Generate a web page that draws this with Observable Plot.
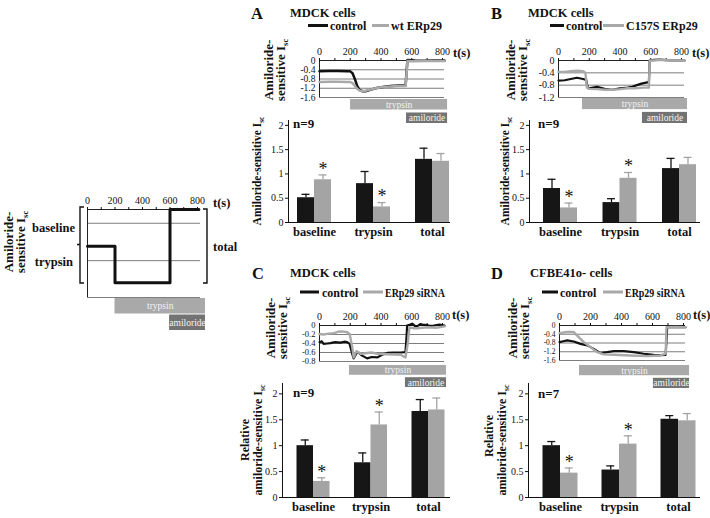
<!DOCTYPE html>
<html>
<head>
<meta charset="utf-8">
<script src="https://cdn.jsdelivr.net/npm/d3@7"></script>
<script src="https://cdn.jsdelivr.net/npm/@observablehq/plot@0.6"></script>
<style>
  html, body { margin: 0; padding: 0; background: #fff; }
  #root { position: relative; width: 710px; height: 518px; overflow: hidden; background: #fff; }
  #root > svg { position: absolute; }
</style>
</head>
<body>
<div id="root"></div>
<script>
// ================= DATA =================
const categories = ["baseline", "trypsin", "total"];
const barTicks = [0, 0.5, 1, 1.5, 2];
const timeTicks = [0, 100, 200, 300, 400, 500, 600, 700, 800];
const drugNames = ["trypsin", "amiloride"];

const panelLetters = ["A", "B", "C", "D"];
const panelTitles = ["MDCK cells", "MDCK cells", "MDCK cells", "CFBE41o- cells"];
const controlLabel = "control";
const treatmentLabels = ["wt ERp29", "C157S ERp29", "ERp29 siRNA", "ERp29 siRNA"];
const sampleSizes = ["n=9", "n=9", "n=9", "n=7"];
const significant = [true, true, false];

// Schematic (left)
const sTime = [0, 200, 200, 600, 600, 810];
const sValue = [-0.67, -0.67, -1.33, -1.33, 0, 0];
const sGrid = [-0.25, -0.93, -1.6];
const sDrugStart = [200, 597];
const sDrugEnd = [858, 858];

// Panel A traces
const aTraceTicks = [0, -0.4, -0.8, -1.2, -1.6];
const aCtrlT = [0,60,120,180,200,215,230,245,260,280,300,330,364,400,462,520,560,566,572,620,680,740,813];
const aCtrlV = [-0.46,-0.45,-0.45,-0.46,-0.47,-0.55,-0.8,-1.1,-1.27,-1.33,-1.33,-1.27,-1.2,-1.16,-1.1,-1.08,-1.08,-0.5,0.02,0,-0.01,0,0];
const aExpT = [0,60,120,180,200,215,230,245,260,280,300,330,364,400,462,520,560,566,572,620,680,740,813];
const aExpV = [-0.93,-0.92,-0.92,-0.93,-0.93,-0.98,-1.1,-1.22,-1.3,-1.32,-1.31,-1.26,-1.2,-1.16,-1.12,-1.1,-1.1,-0.6,-0.02,-0.03,-0.02,-0.02,-0.02];
const aDrugStart = [202, 566];
const aDrugEnd = [833, 833];
// Panel A bars
const aCtrl = [0.51, 0.80, 1.30];
const aCtrlErr = [0.07, 0.25, 0.23];
const aExp = [0.88, 0.32, 1.26];
const aExpErr = [0.10, 0.09, 0.16];

// Panel B traces
const bTraceTicks = [0, -0.4, -0.8, -1.2];
const bCtrlT = [0,40,80,120,160,180,190,200,250,300,350,400,450,480,510,540,570,588,593,620,660,700,760,820];
const bCtrlV = [-0.65,-0.64,-0.6,-0.56,-0.6,-0.63,-0.88,-0.9,-0.85,-0.92,-0.95,-0.9,-0.88,-0.85,-0.8,-0.75,-0.72,-0.7,0,0.02,0.03,0.01,0,0];
const bExpT = [0,40,80,120,160,175,185,200,250,300,350,400,450,500,550,588,593,620,660,700,760,820];
const bExpV = [-0.37,-0.37,-0.35,-0.33,-0.35,-0.4,-0.88,-0.92,-0.93,-0.95,-0.95,-0.93,-0.9,-0.9,-0.88,-0.88,0,0,0.02,0.01,0,0];
const bDrugStart = [156, 546];
const bDrugEnd = [839, 839];
const bCtrl = [0.70, 0.41, 1.11];
const bCtrlErr = [0.19, 0.08, 0.21];
const bExp = [0.30, 0.91, 1.19];
const bExpErr = [0.10, 0.12, 0.15];

// Panel C traces
const cTraceTicks = [0, -0.2, -0.4, -0.6, -0.8];
const cCtrlT = [0,15,27,50,71,100,136,160,180,196,213,222,245,260,277,310,340,375,408,440,480,527,559,565,570,590,603,620,635,655,670,700,720,743,780,813];
const cCtrlV = [-0.37,-0.35,-0.41,-0.4,-0.39,-0.37,-0.38,-0.36,-0.37,-0.41,-0.63,-0.73,-0.59,-0.62,-0.67,-0.73,-0.7,-0.71,-0.65,-0.61,-0.6,-0.6,-0.59,-0.3,0,0.02,0.04,-0.01,-0.02,0.03,0.02,0.01,-0.01,0,0.02,0];
const cExpT = [0,27,60,93,120,147,180,196,213,222,240,270,310,340,375,440,527,559,574,585,610,635,700,760,813];
const cExpV = [-0.19,-0.2,-0.18,-0.17,-0.14,-0.13,-0.15,-0.19,-0.48,-0.71,-0.57,-0.63,-0.61,-0.6,-0.63,-0.64,-0.65,-0.71,-0.4,-0.04,-0.06,-0.06,-0.04,-0.05,-0.02];
const cDrugStart = [195, 559];
const cDrugEnd = [826, 826];
const cCtrl = [1.00, 0.67, 1.66];
const cCtrlErr = [0.11, 0.19, 0.23];
const cExp = [0.31, 1.40, 1.69];
const cExpErr = [0.07, 0.25, 0.23];

// Panel D traces
const dTraceTicks = [0, -0.4, -0.8, -1.2, -1.6];
const dCtrlT = [0,25,50,92,135,179,221,264,308,350,414,479,543,608,650,685,695,738,780,813];
const dCtrlV = [-0.76,-0.72,-0.68,-0.73,-0.84,-0.91,-1.07,-1.26,-1.22,-1.17,-1.17,-1.22,-1.29,-1.34,-1.36,-1.34,-0.08,-0.06,-0.07,-0.08];
const dExpT = [0,50,92,114,157,200,243,286,350,458,565,652,685,690,750,813];
const dExpV = [-0.35,-0.3,-0.3,-0.46,-0.76,-0.99,-1.22,-1.32,-1.34,-1.37,-1.4,-1.37,-1.29,-0.08,-0.07,-0.08];
const dDrugStart = [129, 606];
const dDrugEnd = [839, 839];
const dCtrl = [1.00, 0.53, 1.51];
const dCtrlErr = [0.08, 0.08, 0.07];
const dExp = [0.47, 1.03, 1.48];
const dExpErr = [0.10, 0.16, 0.14];

// ================= STYLE / LAYOUT =================
const FONT = '"Liberation Serif", "Times New Roman", Times, serif';
const BLACK = "#161616";
const GRAY = "#a4a4a4";
const TRACE_GRAY = "#a9a9a9";
const GRID = "#6e6e6e";
const TRYPSIN_FILL = "#a9a9a9";
const AMILORIDE_FILL = "#737373";

const root = document.getElementById("root");
function place(svg, left, top) {
  svg.style.left = left + "px";
  svg.style.top = top + "px";
  root.appendChild(svg);
}
const baseStyle = {background: "transparent", overflow: "visible", fontFamily: FONT, fontSize: "10px", color: "#111"};
const yfmt = d => d === 0 ? "0" : d.toFixed(1);
const toRows = (T, V) => T.map((t, i) => ({t, v: V[i]}));

function traceChart(p) {
  const mL = 40, mT = 24, mR = 4, mB = 3;
  const tMax = (p.xEnd - p.x0) / (p.x800 - p.x0) * 800;
  const w = p.xEnd - p.x0, h = p.yBottom - p.yTop;
  const marks = [
    Plot.ruleY(p.grid, {stroke: GRID, strokeWidth: 0.9}),
    Plot.ruleY([0], {stroke: "#222", strokeWidth: 1}),
    Plot.ruleX([0], {stroke: "#222", strokeWidth: 1}),
    Plot.axisX({anchor: "top", ticks: timeTicks, tickFormat: d => d % 200 === 0 ? String(d) : "", tickSize: 3, tickPadding: 3, label: null, fontSize: 10})
  ];
  if (p.yTicks) marks.push(Plot.axisY({ticks: p.yTicks, tickFormat: yfmt, tickSize: 0, tickPadding: 4, label: null, fontSize: p.yFont || 10}));
  for (const s of p.series) marks.push(Plot.line(toRows(s.t, s.v), {x: "t", y: "v", stroke: s.color, strokeWidth: s.width}));
  const yScale = {domain: p.yDomain, label: null};
  if (!p.yTicks) yScale.axis = null;
  const chart = Plot.plot({
    width: mL + w + mR, height: mT + h + mB,
    marginLeft: mL, marginRight: mR, marginTop: mT, marginBottom: mB,
    style: baseStyle,
    x: {domain: [0, tMax], label: null},
    y: yScale,
    marks
  });
  place(chart, p.x0 - mL, p.yTop - mT);

  // drug application bars under the trace, same time scale
  const drugs = drugNames.map((name, i) => ({name, start: p.drugStart[i], end: p.drugEnd[i]}));
  const dh = p.drugBottom - p.drugTop;
  const drugChart = Plot.plot({
    width: mL + w + mR, height: dh,
    marginLeft: mL, marginRight: mR, marginTop: 0, marginBottom: 0,
    style: baseStyle,
    x: {domain: [0, tMax], axis: null},
    y: {domain: drugNames, range: [0, dh], paddingInner: p.drugPad, paddingOuter: 0, axis: null, round: false},
    marks: [
      Plot.barX(drugs.filter(d => d.name === "trypsin"), {x1: "start", x2: "end", y: "name", fill: TRYPSIN_FILL}),
      Plot.barX(drugs.filter(d => d.name === "amiloride"), {x1: "start", x2: "end", y: "name", fill: AMILORIDE_FILL}),
      Plot.text(drugs, {x: d => (d.start + d.end) / 2, y: "name", text: "name", fill: "#f3f3f3", fontSize: 9.5})
    ]
  });
  place(drugChart, p.x0 - mL, p.drugTop);
}

function barChart(p) {
  const mL = 40, mT = 4, mR = 4, mB = 24;
  const left = p.axisX - mL, top = p.yTop - mT;
  const W = mL + (p.axisEnd - p.axisX) + mR, H = mT + (p.yZero - p.yTop) + mB;
  const step = (p.centers[2] - p.centers[0]) / 2;
  const r0 = p.centers[0] - p.bw / 2 - left, r1 = p.centers[2] + p.bw / 2 - left;
  const ctrl = categories.map((cat, i) => ({cat, v: p.ctrl[i], e: p.ctrlErr[i]}));
  const exp = categories.map((cat, i) => ({cat, v: p.exp[i], e: p.expErr[i], sig: significant[i]}));
  const half = p.bw / 2, q = p.bw / 4, cap = 4;
  const chart = Plot.plot({
    width: W, height: H, marginLeft: mL, marginRight: mR, marginTop: mT, marginBottom: mB,
    style: baseStyle,
    x: {type: "band", domain: categories, range: [r0, r1], paddingInner: 1 - p.bw / step, paddingOuter: 0, align: 0.5, round: false, axis: null},
    y: {domain: [0, p.yMax], ticks: barTicks, tickFormat: d => String(d), tickSize: 3, tickPadding: 2, line: true, label: null},
    marks: [
      Plot.ruleY([0], {stroke: "#111"}),
      Plot.barY(ctrl, {x: "cat", y: "v", fill: BLACK, insetRight: half}),
      Plot.barY(exp, {x: "cat", y: "v", fill: GRAY, insetLeft: half}),
      Plot.ruleX(ctrl, {x: "cat", y1: "v", y2: d => d.v + d.e, dx: -q, stroke: BLACK, strokeWidth: 1.3}),
      Plot.ruleX(exp, {x: "cat", y1: "v", y2: d => d.v + d.e, dx: q, stroke: GRAY, strokeWidth: 1.3}),
      Plot.tickY(ctrl, {x: "cat", y: d => d.v + d.e, insetLeft: q - cap, insetRight: p.bw - q - cap, stroke: BLACK, strokeWidth: 1.3}),
      Plot.tickY(exp, {x: "cat", y: d => d.v + d.e, insetLeft: 3 * q - cap, insetRight: q - cap, stroke: GRAY, strokeWidth: 1.3}),
      Plot.text(exp.filter(d => d.sig), {x: "cat", y: d => d.v + d.e, text: () => "*", dx: q, dy: -6, fontSize: 18, fill: "#111"}),
      Plot.text(categories, {x: d => d, frameAnchor: "bottom", dy: 13, fontSize: 12.5, fontWeight: "bold", fill: "#111"})
    ]
  });
  place(chart, left, top);
}

// ---------- schematic ----------
traceChart({x0: 87, x800: 197, xEnd: 200, yTop: 209, yBottom: 297, yDomain: [-1.6, 0], yTicks: null,
  grid: sGrid, series: [{t: sTime, v: sValue, color: "#111", width: 3}],
  drugStart: sDrugStart, drugEnd: sDrugEnd, drugTop: 298, drugBottom: 330, drugPad: 0.06});

// ---------- panels ----------
traceChart({x0: 319, x800: 442, xEnd: 444, yTop: 60, yBottom: 97, yDomain: [-1.6, 0], yTicks: aTraceTicks, grid: aTraceTicks, yFont: 9.5,
  series: [{t: aCtrlT, v: aCtrlV, color: "#111", width: 2.5}, {t: aExpT, v: aExpV, color: TRACE_GRAY, width: 2.5}],
  drugStart: aDrugStart, drugEnd: aDrugEnd, drugTop: 99, drugBottom: 123, drugPad: 0.22});
traceChart({x0: 558, x800: 681, xEnd: 684, yTop: 60, yBottom: 97, yDomain: [-1.2, 0], yTicks: bTraceTicks, grid: bTraceTicks,
  series: [{t: bCtrlT, v: bCtrlV, color: "#111", width: 2.2}, {t: bExpT, v: bExpV, color: TRACE_GRAY, width: 2.4}],
  drugStart: bDrugStart, drugEnd: bDrugEnd, drugTop: 98, drugBottom: 123, drugPad: 0.2});
traceChart({x0: 319, x800: 442, xEnd: 444, yTop: 325, yBottom: 361, yDomain: [-0.8, 0], yTicks: cTraceTicks, grid: cTraceTicks, yFont: 8.5,
  series: [{t: cCtrlT, v: cCtrlV, color: "#111", width: 2.2}, {t: cExpT, v: cExpV, color: TRACE_GRAY, width: 2.4}],
  drugStart: cDrugStart, drugEnd: cDrugEnd, drugTop: 365, drugBottom: 387, drugPad: 0.2});
traceChart({x0: 559, x800: 683, xEnd: 685, yTop: 325, yBottom: 360, yDomain: [-1.6, 0], yTicks: dTraceTicks, grid: dTraceTicks, yFont: 7.5,
  series: [{t: dCtrlT, v: dCtrlV, color: "#111", width: 2.2}, {t: dExpT, v: dExpV, color: TRACE_GRAY, width: 2.4}],
  drugStart: dDrugStart, drugEnd: dDrugEnd, drugTop: 365, drugBottom: 388, drugPad: 0.2});

barChart({axisX: 288, axisEnd: 450, yZero: 222, yTop: 120, yMax: 2.1, centers: [314, 373, 432], bw: 34,
  ctrl: aCtrl, ctrlErr: aCtrlErr, exp: aExp, expErr: aExpErr});
barChart({axisX: 529, axisEnd: 700, yZero: 222, yTop: 120, yMax: 2.1, centers: [560, 619.5, 679], bw: 34,
  ctrl: bCtrl, ctrlErr: bCtrlErr, exp: bExp, expErr: bExpErr});
barChart({axisX: 282, axisEnd: 450, yZero: 497, yTop: 383, yMax: 2.2, centers: [313, 370.5, 428], bw: 33,
  ctrl: cCtrl, ctrlErr: cCtrlErr, exp: cExp, expErr: cExpErr});
barChart({axisX: 528, axisEnd: 700, yZero: 497, yTop: 383, yMax: 2.2, centers: [560, 619, 678], bw: 35,
  ctrl: dCtrl, ctrlErr: dCtrlErr, exp: dExp, expErr: dExpErr});

// ================= TEXT OVERLAY =================
const ov = d3.create("svg").attr("width", 710).attr("height", 518)
  .style("left", "0px").style("top", "0px").style("pointer-events", "none")
  .attr("font-family", FONT).attr("fill", "#111");

function txt(x, y, s, size, opts = {}) {
  const t = ov.append("text").attr("x", x).attr("y", y).attr("font-size", size)
    .attr("font-weight", opts.weight || "bold").text(s);
  if (opts.anchor) t.attr("text-anchor", opts.anchor);
  if (opts.len) t.attr("textLength", opts.len).attr("lengthAdjust", "spacingAndGlyphs");
  return t;
}
function vlabel(x, yc, main, sub, size) {
  const t = ov.append("text").attr("transform", `translate(${x},${yc}) rotate(-90)`)
    .attr("text-anchor", "middle").attr("font-size", size).attr("font-weight", "bold");
  t.append("tspan").text(main);
  if (sub) {
    t.append("tspan").attr("font-size", size * 0.65).attr("dy", size * 0.25).text(sub);
  }
}

// panel letters & titles
const letterPos = [[251, 19], [491, 19], [252, 279], [491, 279]];
const titlePos = [[290, 17], [528, 17], [290, 277], [530, 277]];
panelLetters.forEach((l, i) => txt(letterPos[i][0], letterPos[i][1], l, 16.5));
panelTitles.forEach((s, i) => txt(titlePos[i][0], titlePos[i][1], s, 12.5));

// legends
const legendPos = [
  {y: 25.5, ty: 30, c: [308, 328, 330], e: [372, 389, 391]},
  {y: 25.5, ty: 30, c: [550, 564, 566], e: [603, 624, 626]},
  {y: 292, ty: 296.5, c: [300, 319, 322], e: [363, 383, 385], len: 60},
  {y: 292, ty: 296.5, c: [542, 558, 560], e: [603, 623, 625], len: 60}
];
legendPos.forEach((L, i) => {
  ov.append("line").attr("x1", L.c[0]).attr("x2", L.c[1]).attr("y1", L.y).attr("y2", L.y).attr("stroke", "#111").attr("stroke-width", 3);
  txt(L.c[2], L.ty, controlLabel, 12);
  ov.append("line").attr("x1", L.e[0]).attr("x2", L.e[1]).attr("y1", L.y).attr("y2", L.y).attr("stroke", TRACE_GRAY).attr("stroke-width", 3);
  txt(L.e[2], L.ty, treatmentLabels[i], 12, {len: L.len});
});

// t(s) labels
[[453, 57], [692, 57], [452, 319], [693, 319], [213, 207]].forEach(([x, y]) => txt(x, y, "t(s)", 12.5));

// n labels
const nPos = [[293, 128], [538, 128], [293, 397], [538, 398]];
sampleSizes.forEach((s, i) => txt(nPos[i][0], nPos[i][1], s, 13));

// trace y labels
[[273, 285, 70], [515, 527, 70], [275, 287, 328], [517, 529, 328], [13, 25, 242]].forEach(([x1, x2, yc]) => {
  vlabel(x1, yc, "Amiloride-", null, 13);
  vlabel(x2, yc, "sensitive I", "sc", 13);
});

// bar chart y labels
vlabel(261, 171, "Amiloride-sensitive I", "sc", 11.5);
vlabel(509, 171, "Amiloride-sensitive I", "sc", 11.5);
vlabel(249, 440, "Relative", null, 12);
vlabel(262, 440, "amiloride-sensitive I", "sc", 12);
vlabel(493, 436, "Relative", null, 12);
vlabel(506, 440, "amiloride-sensitive I", "sc", 12);

// schematic annotations
txt(75, 232, "baseline", 12.5, {anchor: "end"});
txt(73, 266, "trypsin", 12.5, {anchor: "end"});
txt(213, 251, "total", 12.5);
ov.append("path").attr("d", "M84,207 H80 V283 H84 M80,244.5 H77").attr("fill", "none").attr("stroke", "#111").attr("stroke-width", 1.4);
ov.append("path").attr("d", "M203,209 H207 V283 H203").attr("fill", "none").attr("stroke", "#111").attr("stroke-width", 1.4);

root.appendChild(ov.node());
</script>
</body>
</html>
